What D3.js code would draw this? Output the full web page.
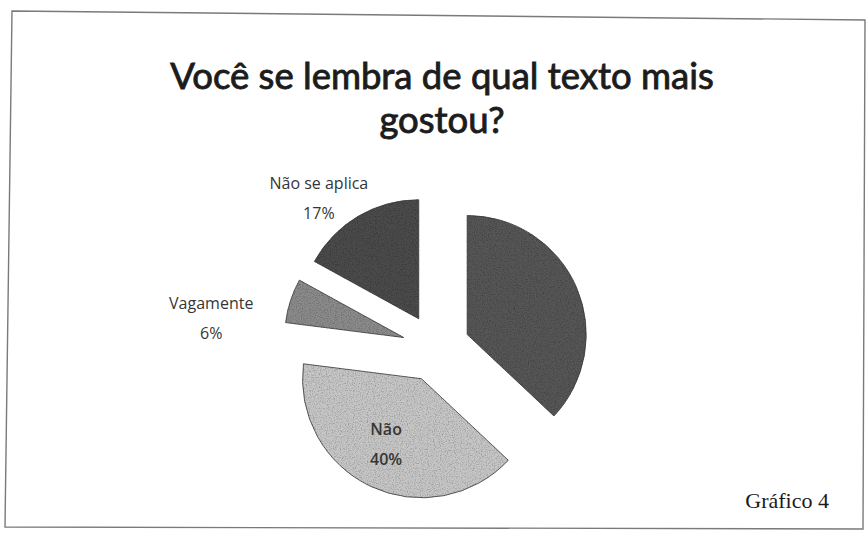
<!DOCTYPE html>
<html>
<head>
<meta charset="utf-8">
<script src="https://cdn.jsdelivr.net/npm/d3@7"></script>
<style>
  html, body { margin: 0; padding: 0; background: #ffffff; }
  svg { display: block; }
</style>
</head>
<body>
<svg id="chart" width="866" height="536"></svg>
<script>
// Survey answers, in clockwise order from 12 o'clock
const categories = ["Sim", "Não", "Vagamente", "Não se aplica"];
const values = [37, 40, 6, 17];
const sliceColors = ["#575757", "#c6c6c6", "#8b8b8b", "#4b4b4b"];
const titleLines = ["Você se lembra de qual texto mais", "gostou?"];
const captionText = "Gráfico 4";

const W = 866, H = 536;
const svg = d3.select("#chart");

// Printed-page grain on the filled slices
const defs = svg.append("defs");
const grain = defs.append("filter").attr("id", "grain")
  .attr("x", "-5%").attr("y", "-5%").attr("width", "110%").attr("height", "110%");
grain.append("feTurbulence")
  .attr("type", "fractalNoise").attr("baseFrequency", 0.85)
  .attr("numOctaves", 2).attr("seed", 7).attr("result", "noise");
grain.append("feColorMatrix").attr("in", "noise").attr("type", "matrix")
  .attr("values", "0 0 0 0 0  0 0 0 0 0  0 0 0 0 0  0 0 0 -1.1 0.62")
  .attr("result", "speckle");
grain.append("feComposite").attr("in", "speckle").attr("in2", "SourceGraphic")
  .attr("operator", "in").attr("result", "speckleIn");
grain.append("feMerge").selectAll("feMergeNode")
  .data(["SourceGraphic", "speckleIn"]).join("feMergeNode").attr("in", d => d);

// Hand-ruled frame around the figure (slightly skewed, as on the printed page)
const frame = [[12, 11], [865, 20], [863, 529], [5, 527]];
svg.append("path")
  .attr("d", d3.line()(frame) + "Z")
  .attr("fill", "none")
  .attr("stroke", "#7a7a7a")
  .attr("stroke-width", 1.4);

// Title (regular face with a light outline for a medium-bold weight)
svg.append("g")
  .selectAll("text")
  .data(titleLines)
  .join("text")
  .attr("x", 442)
  .attr("y", (d, i) => 89 + i * 44)
  .attr("text-anchor", "middle")
  .attr("font-family", "Lato, 'Open Sans', sans-serif")
  .attr("font-weight", 400)
  .attr("font-size", 36.5)
  .attr("fill", "#1c1c1c")
  .attr("stroke", "#1c1c1c")
  .attr("stroke-width", 0.9)
  .text(d => d);

// Exploded pie
const cx = 436, cy = 348, radius = 119, explode = 34;
const pie = d3.pie().sort(null).value(d => d.value);
const arcs = pie(categories.map((c, i) => ({ name: c, value: values[i], color: sliceColors[i] })));
const arc = d3.arc().innerRadius(0).outerRadius(radius);
const mid = d => (d.startAngle + d.endAngle) / 2;

const pieG = svg.append("g").attr("transform", `translate(${cx},${cy})`);
pieG.selectAll("path")
  .data(arcs)
  .join("path")
  .attr("transform", d => `translate(${explode * Math.sin(mid(d))},${-explode * Math.cos(mid(d))})`)
  .attr("d", arc)
  .attr("fill", d => d.data.color)
  .attr("stroke", "#3a3a3a")
  .attr("stroke-width", 0.8)
  .attr("filter", "url(#grain)");

// Data labels: category name and share, placed along each slice's bisector
const total = d3.sum(values);
const labelPlacement = {
  "Sim": null,
  "Não": { r: 0.62, dx: -4, dy: -7, weight: 600 },
  "Vagamente": { r: 1.55, dx: -17, dy: 33, weight: 400 },
  "Não se aplica": { r: 1.45, dx: -12, dy: 23, weight: 400 }
};
const labels = pieG.selectAll("g.lbl")
  .data(arcs.filter(d => labelPlacement[d.data.name]))
  .join("g")
  .attr("class", "lbl")
  .attr("transform", d => {
    const p = labelPlacement[d.data.name];
    const a = mid(d);
    const rr = p.r * radius + explode;
    return `translate(${rr * Math.sin(a) + p.dx},${-rr * Math.cos(a) + p.dy})`;
  });
const labelLines = d => [d.data.name, Math.round(d.data.value / total * 100) + "%"];
labels.selectAll("text")
  .data(d => labelLines(d).map(t => ({ t, w: labelPlacement[d.data.name].weight })))
  .join("text")
  .attr("text-anchor", "middle")
  .attr("y", (d, i) => -4 + i * 30)
  .attr("font-family", "'Open Sans', sans-serif")
  .attr("font-size", 16)
  .attr("fill", "#363636")
  .attr("font-weight", d => d.w)
  .text(d => d.t);

// Figure caption
svg.append("text")
  .attr("x", 829)
  .attr("y", 508)
  .attr("text-anchor", "end")
  .attr("font-family", "'Liberation Serif', 'DejaVu Serif', serif")
  .attr("font-size", 22)
  .attr("fill", "#1a1a1a")
  .text(captionText);
</script>
</body>
</html>
